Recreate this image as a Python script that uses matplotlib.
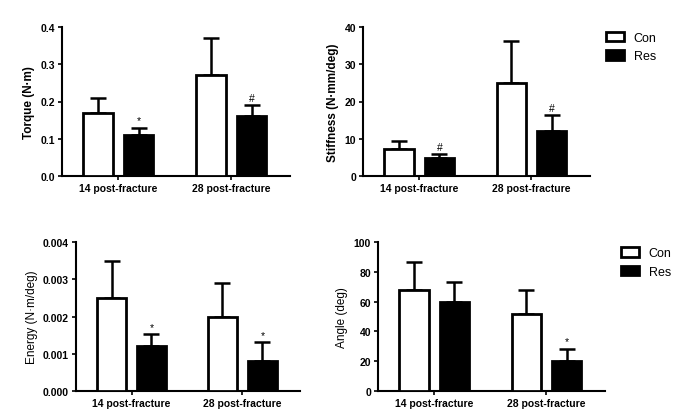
import numpy as np
import matplotlib
matplotlib.use("Agg")
import matplotlib.pyplot as plt
from matplotlib import ticker

plt.rcParams['font.family'] = ['Liberation Sans', 'DejaVu Sans']

groups = ["14 post-fracture", "28 post-fracture"]
series = ["Con", "Res"]

# 平均値と誤差上端 (Con, Res)
torque_con = [0.17, 0.27]
torque_con_err = [0.04, 0.10]
torque_res = [0.11, 0.16]
torque_res_err = [0.02, 0.03]
torque_mark = ["*", "#"]

stiff_con = [7.2, 25.0]
stiff_con_err = [2.2, 11.3]
stiff_res = [4.8, 12.2]
stiff_res_err = [1.0, 4.1]
stiff_mark = ["#", "#"]

energy_con = [0.0025, 0.0020]
energy_con_err = [0.0010, 0.0009]
energy_res = [0.0012, 0.0008]
energy_res_err = [0.00032, 0.00052]
energy_mark = ["*", "*"]

angle_con = [68, 52]
angle_con_err = [19, 16]
angle_res = [60, 20]
angle_res_err = [13, 8.5]
angle_mark = ["", "*"]

fig = plt.figure(figsize=(6.79, 4.10), dpi=100)

#パネルの位置
pos = [
    [0.0913, 0.568, 0.336, 0.364],
    [0.5346, 0.568, 0.334, 0.364],
    [0.112, 0.0439, 0.330, 0.363],
    [0.5567, 0.0439, 0.334, 0.363],
]

panels = [
    (torque_con, torque_con_err, torque_res, torque_res_err, torque_mark,
     "Torque (N·m)", 0.4, 0.1, "%.1f", "bold"),
    (stiff_con, stiff_con_err, stiff_res, stiff_res_err, stiff_mark,
     "Stiffness (N·mm/deg)", 40, 10, "%d", "bold"),
    (energy_con, energy_con_err, energy_res, energy_res_err, energy_mark,
     "Energy (N·m/deg)", 0.004, 0.001, "%.3f", "normal"),
    (angle_con, angle_con_err, angle_res, angle_res_err, angle_mark,
     "Angle (deg)", 100, 20, "%d", "normal"),
]

x = np.arange(len(groups))
w = 0.26
off = 0.18

for i, (con, con_e, res, res_e, mark, ylab, ymax, step, fmt, lw_) in enumerate(panels):
    ax = fig.add_axes(pos[i])
    ax.bar(x - off, con, w, color="white", edgecolor="black", linewidth=2, label=series[0], zorder=3)
    ax.bar(x + off, res, w, color="black", edgecolor="black", linewidth=2, label=series[1], zorder=3)
    ax.errorbar(x - off, con, yerr=[np.zeros(2), con_e], fmt="none", ecolor="black",
                elinewidth=1.8, capsize=5.5, capthick=1.8, zorder=2)
    ax.errorbar(x + off, res, yerr=[np.zeros(2), res_e], fmt="none", ecolor="black",
                elinewidth=1.8, capsize=5.5, capthick=1.8, zorder=2)
    for j in range(2):
        if mark[j]:
            ax.text(x[j] + off, res[j] + res_e[j] + ymax * 0.015, mark[j],
                    ha="center", va="bottom", fontsize=7.5)
    ax.set_xlim(-0.5, 1.52)
    ax.set_ylim(0, ymax)
    ax.yaxis.set_major_locator(ticker.MultipleLocator(step))
    ax.yaxis.set_major_formatter(ticker.FormatStrFormatter(fmt))
    ax.set_xticks(x)
    ax.set_xticklabels(groups, fontweight="bold", fontsize=7.5)
    for t in ax.get_yticklabels():
        t.set_fontweight("bold")
        t.set_fontsize(7.5)
    ax.set_ylabel(ylab, fontsize=8.5, fontweight=lw_)
    ax.spines["top"].set_visible(False)
    ax.spines["right"].set_visible(False)
    ax.spines["left"].set_linewidth(1.5)
    ax.spines["bottom"].set_linewidth(1.5)
    ax.tick_params(direction="out", length=3, width=1.2, pad=2)
    if i in (1, 3):
        ax.legend(loc="upper left", bbox_to_anchor=(1.05, 1.0), frameon=False,
                  fontsize=9, handlelength=1.4, handleheight=0.8, borderaxespad=0)

fig.savefig("out.png", dpi=100)
